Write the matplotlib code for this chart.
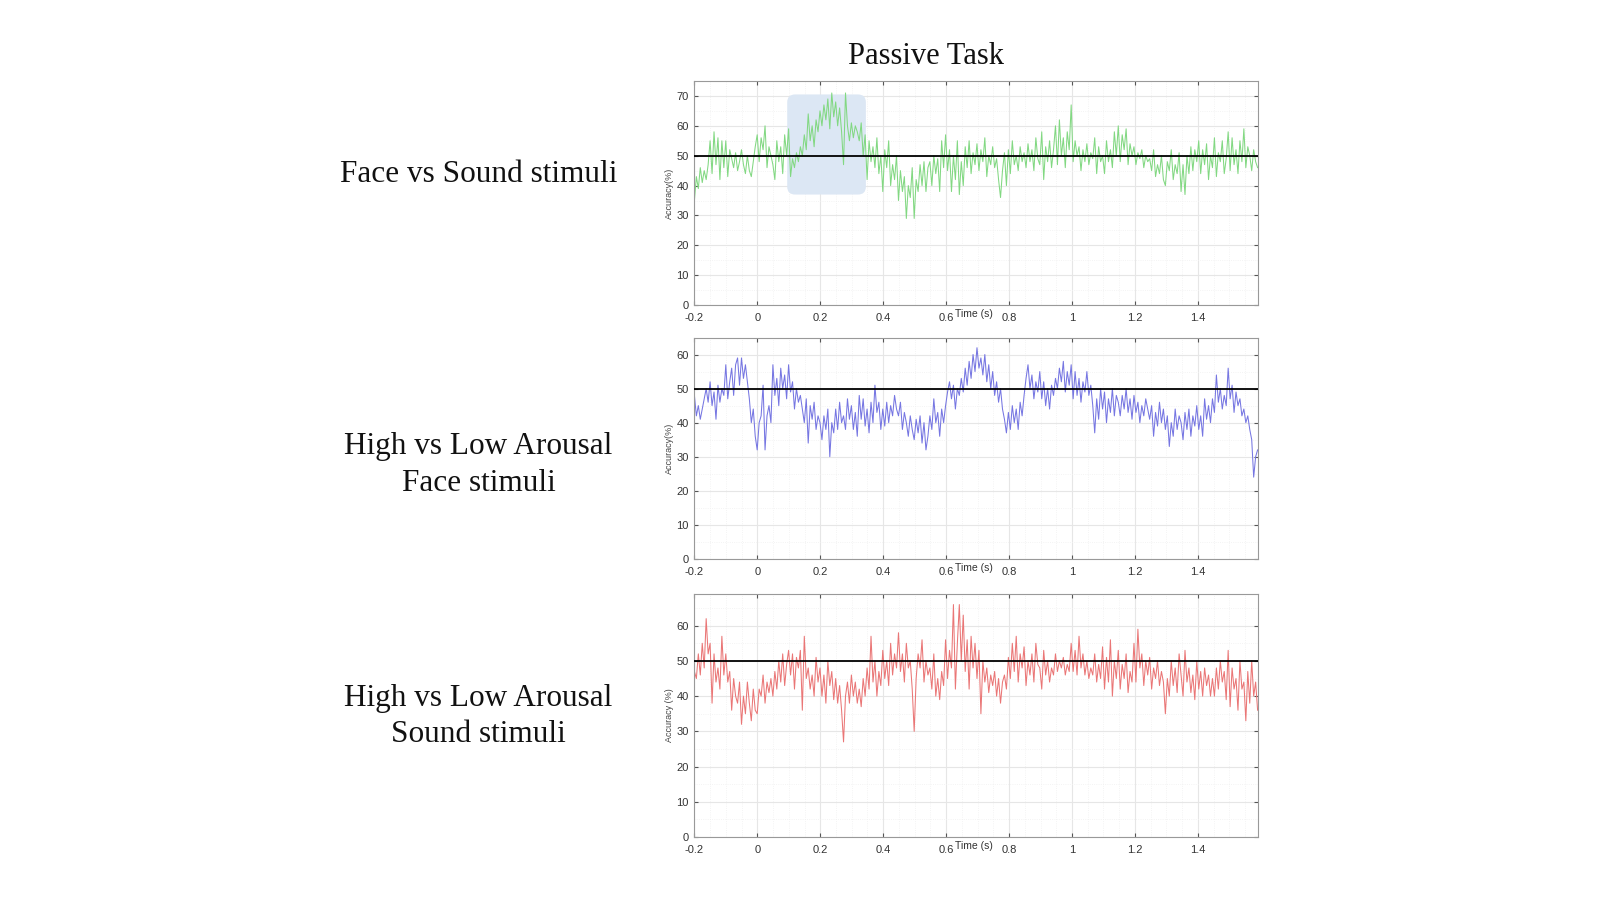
import numpy as np
import matplotlib
matplotlib.use('Agg')
import matplotlib.pyplot as plt
from matplotlib.patches import FancyBboxPatch
from matplotlib.ticker import MultipleLocator

# decoding accuracy (%), 8 samples per 0.05 s, from -0.2 s
face_vs_sound = [
    35, 43, 39, 46, 41, 45, 42, 47,
    55, 44, 58, 47, 56, 42, 55, 46,
    55, 43, 52, 49, 46, 51, 45, 48,
    52, 47, 44, 50, 45, 43, 48, 53,
    57, 48, 56, 52, 60, 46, 53, 50,
    47, 42, 55, 48, 53, 44, 57, 50,
    59, 43, 49, 46, 51, 48, 53, 50,
    57, 52, 64, 55, 60, 53, 62, 58,
    65, 60, 67, 62, 69, 59, 71, 63,
    68, 60, 66, 58, 47, 71, 60, 55,
    61, 56, 60, 58, 55, 61, 50, 57,
    42, 55, 48, 53, 46, 56, 44, 50,
    38, 52, 46, 55, 40, 47, 42, 50,
    35, 45, 38, 43, 29, 40, 36, 46,
    29, 42, 38, 47, 40, 48, 38, 46,
    48, 40, 50, 44, 49, 38, 55, 46,
    57, 45, 52, 38, 50, 42, 55, 37,
    48, 40, 53, 46, 55, 44, 51, 47,
    54, 45, 52, 48, 56, 43, 50, 47,
    53, 46, 49, 42, 36, 45, 51, 40,
    52, 44, 55, 47, 50, 45, 53, 48,
    51, 46, 54, 48, 52, 45, 56, 49,
    47, 58, 42, 53, 48, 55, 46, 52,
    60, 47, 62, 50, 56, 46, 58, 52,
    67, 48, 55, 50, 53, 45, 52, 48,
    54, 47, 51, 49, 56, 44, 53, 48,
    50, 44, 55, 48, 52, 46, 58, 50,
    60, 48, 57, 52, 59, 47, 54, 50,
    53, 47, 51, 49, 52, 46, 50, 48,
    49, 45, 52, 43, 47, 44, 50, 42,
    40, 48, 45, 52, 42, 47, 44, 51,
    38, 47, 37, 50, 44, 53, 45, 52,
    48, 55, 44, 52, 47, 54, 42, 50,
    46, 56, 43, 51, 48, 55, 44, 49,
    58, 45, 56, 47, 52, 44, 55, 48,
    59, 46, 53, 50, 45, 52, 48, 46,
]

arousal_face = [
    48, 42, 45, 41, 44, 47, 50, 46,
    52, 45, 49, 41, 51, 46, 50, 48,
    57, 47, 52, 56, 48, 57, 59, 51,
    59, 53, 57, 52, 47, 40, 44, 36,
    32, 40, 42, 51, 32, 42, 45, 40,
    57, 48, 53, 45, 56, 50, 54, 47,
    57, 49, 52, 44, 50, 46, 48, 44,
    40, 47, 34, 45, 41, 46, 38, 42,
    40, 35, 42, 38, 44, 30, 40, 37,
    44, 38, 46, 40, 42, 38, 47, 41,
    45, 38, 43, 36, 48, 41, 47, 39,
    44, 37, 46, 40, 51, 43, 46, 38,
    44, 39, 46, 40, 45, 42, 48, 44,
    42, 46, 38, 43, 40, 36, 42, 38,
    35, 41, 37, 42, 34, 40, 32, 36,
    42, 38, 47, 40, 43, 36, 44, 40,
    45, 49, 52, 47, 51, 44, 50, 48,
    53, 49, 56, 51, 58, 53, 60, 55,
    62, 56, 59, 54, 60, 52, 57, 50,
    55, 48, 52, 46, 50, 44, 41, 37,
    43, 38, 45, 40, 44, 38, 46, 42,
    48, 53, 57, 50, 54, 47, 52, 49,
    55, 47, 52, 45, 50, 44, 51, 48,
    53, 50, 56, 52, 58, 49, 55, 51,
    57, 47, 55, 48, 53, 46, 52, 49,
    55, 48, 51, 45, 37, 47, 41, 50,
    44, 49, 40, 47, 43, 50, 42, 48,
    46, 42, 48, 44, 50, 43, 47, 41,
    48, 43, 46, 40, 45, 42, 47, 44,
    41, 45, 36, 43, 39, 46, 40, 44,
    38, 42, 33, 40, 36, 44, 38, 42,
    40, 35, 43, 38, 44, 36, 42, 39,
    45, 38, 42, 36, 47, 41, 45, 40,
    47, 43, 54, 46, 50, 44, 48, 45,
    56, 47, 51, 43, 49, 45, 47, 42,
    44, 40, 42, 38, 35, 24, 30, 32,
]

arousal_sound = [
    47, 45, 52, 46, 55, 48, 62, 52,
    55, 38, 52, 44, 48, 42, 57, 46,
    52, 44, 47, 36, 45, 40, 38, 44,
    32, 40, 35, 44, 38, 33, 42, 36,
    35, 42, 40, 46, 38, 44, 41, 45,
    40, 47, 42, 50, 44, 52, 43, 49,
    53, 46, 52, 42, 51, 48, 53, 36,
    57, 45, 48, 42, 46, 40, 51, 44,
    48, 40, 46, 38, 50, 43, 47, 39,
    45, 38, 43, 36, 27, 40, 44, 38,
    46, 40, 44, 38, 42, 37, 45, 40,
    48, 42, 57, 44, 50, 40, 47, 43,
    53, 45, 50, 43, 55, 46, 52, 48,
    58, 47, 52, 44, 55, 48, 50, 42,
    30, 45, 52, 48, 56, 44, 50, 46,
    48, 42, 52, 40, 45, 39, 47, 43,
    56, 45, 53, 48, 66, 42, 55, 66,
    50, 63, 47, 56, 42, 57, 48, 55,
    45, 53, 35, 50, 44, 48, 41, 46,
    43, 47, 40, 45, 38, 44, 46, 42,
    51, 45, 55, 47, 57, 44, 52, 48,
    54, 43, 50, 46, 52, 44, 55, 49,
    48, 42, 53, 46, 50, 44, 48, 46,
    52, 47, 50, 48, 51, 46, 49, 47,
    55, 47, 53, 46, 57, 48, 52, 46,
    50, 45, 48, 46, 52, 44, 49, 45,
    54, 42, 51, 44, 56, 40, 50, 45,
    53, 42, 49, 45, 52, 41, 47, 44,
    55, 44, 59, 48, 52, 43, 50, 46,
    51, 42, 48, 45, 50, 43, 47, 44,
    35, 45, 40, 50, 43, 48, 41, 52,
    46, 40, 53, 44, 48, 41, 46, 39,
    50, 42, 47, 40, 48, 43, 46, 40,
    45, 40, 48, 42, 50, 44, 47, 39,
    53, 37, 48, 42, 45, 36, 50, 42,
    44, 33, 47, 38, 50, 40, 44, 36,
]

row_labels = ['Face vs Sound stimuli',
              'High vs Low Arousal\nFace stimuli',
              'High vs Low Arousal\nSound stimuli']
ylabels = ['Accuracy(%)', 'Accuracy(%)', 'Accuracy (%)']
series = [face_vs_sound, arousal_face, arousal_sound]
colors = ['#82d882', '#7676e2', '#ea7676']
ymaxes = [75, 65, 69]
xticks = [-0.2, 0, 0.2, 0.4, 0.6, 0.8, 1, 1.2, 1.4]
chance = 50
sig_window = (0.095, 0.345, 37, 70.5)

# axes boxes in figure fraction [left, bottom, width, height]
boxes = [[0.434, 0.661, 0.352, 0.249],
         [0.434, 0.379, 0.352, 0.246],
         [0.434, 0.070, 0.352, 0.270]]
label_y = [0.806, 0.483, 0.204]

fig = plt.figure(figsize=(16, 9), dpi=100)
serif = 'Liberation Serif'

for i in range(3):
    ax = fig.add_axes(boxes[i])
    vals = np.array(series[i])
    t = np.linspace(-0.2, 1.59, len(vals))

    if i == 0:
        x0, x1, y0, y1 = sig_window
        box = FancyBboxPatch((x0, y0), x1 - x0, y1 - y0,
                             boxstyle='round,pad=0,rounding_size=0.025',
                             mutation_aspect=105, facecolor='#dce7f4',
                             edgecolor='none', zorder=1)
        ax.add_patch(box)

    ax.plot(t, vals, color=colors[i], lw=0.75, zorder=2)
    ax.axhline(chance, color='black', lw=1.3, zorder=3)

    ax.set_xlim(-0.2, 1.59)
    ax.set_ylim(0, ymaxes[i])
    ax.set_xticks(xticks)
    ax.set_xticklabels(['-0.2', '0', '0.2', '0.4', '0.6', '0.8', '1', '1.2', '1.4'])
    ax.yaxis.set_major_locator(MultipleLocator(10))
    ax.xaxis.set_minor_locator(MultipleLocator(0.05))
    ax.yaxis.set_minor_locator(MultipleLocator(5))
    ax.grid(True, which='major', color='#e6e6e6', lw=0.8)
    ax.grid(True, which='minor', color='#f0f0f0', lw=0.6, ls=':')
    ax.set_axisbelow(True)
    ax.tick_params(which='both', direction='in', top=True, right=True,
                   labelsize=8, colors='#555555', labelcolor='#333333',
                   length=3, pad=4)
    ax.tick_params(axis='x', pad=6)
    ax.tick_params(which='minor', length=0)
    for s in ax.spines.values():
        s.set_color('#999999')
        s.set_linewidth(0.8)
    for lab in ax.get_xticklabels() + ax.get_yticklabels():
        lab.set_family('Liberation Sans')

    ax.set_ylabel(ylabels[i], fontsize=6.5, color='#444444', labelpad=2,
                  family='Liberation Sans')
    ax.annotate('Time (s)', xy=(0.69, 0), xycoords=('data', 'axes fraction'),
                xytext=(0, -3), textcoords='offset points', ha='center', va='top',
                fontsize=7.5, color='#333333', family='Liberation Sans')

    fig.text(0.299, label_y[i], row_labels[i], ha='center', va='center',
             fontsize=22.5, family=serif, linespacing=1.35, color='#111111')

fig.text(0.579, 0.9375, 'Passive Task', ha='center', va='center',
         fontsize=22, family=serif, color='#111111')

plt.savefig('out.png', dpi=100)
